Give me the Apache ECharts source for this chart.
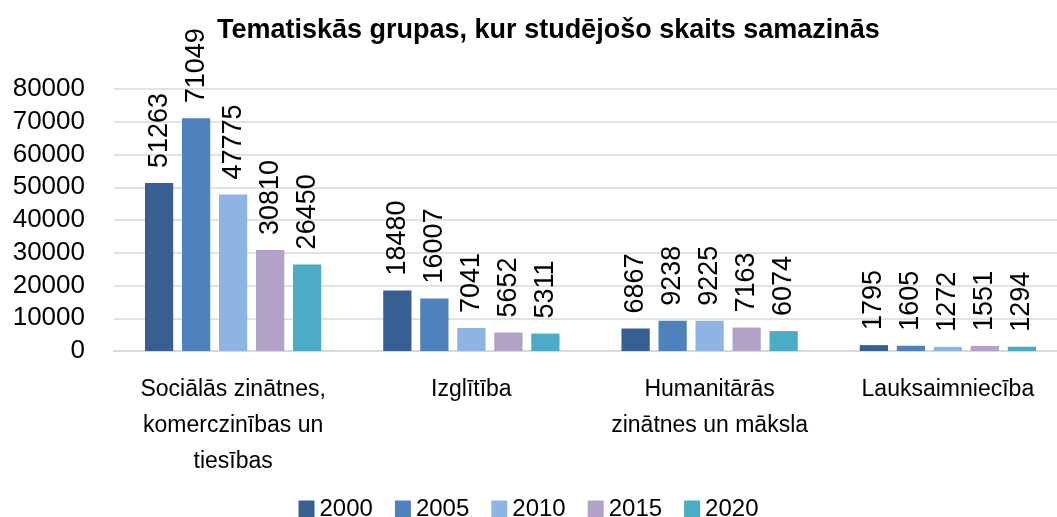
<!DOCTYPE html>
<html>
<head>
<meta charset="utf-8">
<script src="https://cdn.jsdelivr.net/npm/echarts@6/dist/echarts.min.js"></script>
<style>
  html, body { margin: 0; padding: 0; background: #ffffff; }
  #chart { width: 1057px; height: 517px; }
</style>
</head>
<body>
<div id="chart"></div>
<script>
// Thematic groups where the number of students is decreasing
const titleText = 'Tematiskās grupas, kur studējošo skaits samazinās';
const categories = [
  'Sociālās zinātnes,\nkomerczinības un\ntiesības',
  'Izglītība',
  'Humanitārās\nzinātnes un māksla',
  'Lauksaimniecība'
];
const years = ['2000', '2005', '2010', '2015', '2020'];
const values2000 = [51263, 18480, 6867, 1795];
const values2005 = [71049, 16007, 9238, 1605];
const values2010 = [47775, 7041, 9225, 1272];
const values2015 = [30810, 5652, 7163, 1551];
const values2020 = [26450, 5311, 6074, 1294];
const seriesValues = [values2000, values2005, values2010, values2015, values2020];
const colors = ['#375F92', '#4F81BD', '#8EB4E3', '#B3A2C7', '#4BACC6'];

const fontFamily = '"Liberation Sans", Arial, sans-serif';
const chart = echarts.init(document.getElementById('chart'));

chart.setOption({
  animation: false,
  backgroundColor: '#ffffff',
  color: colors,
  textStyle: { fontFamily: fontFamily, color: '#000000' },
  title: {
    text: titleText,
    left: 212,
    top: 12,
    textStyle: { fontFamily: fontFamily, fontSize: 27, fontWeight: 'bold', color: '#000000' }
  },
  legend: {
    top: 492,
    left: 'center',
    itemWidth: 16,
    itemHeight: 17,
    itemGap: 22,
    icon: 'rect',
    textStyle: { fontFamily: fontFamily, fontSize: 24, color: '#000000' },
    data: years
  },
  grid: {
    left: 114,
    top: 89,
    width: 953,
    height: 262,
    containLabel: false,
    outerBoundsMode: 'none'
  },
  xAxis: {
    type: 'category',
    data: categories,
    axisLine: { show: true, lineStyle: { color: '#D9D9D9', width: 2 } },
    axisTick: { show: false },
    axisLabel: {
      fontFamily: fontFamily,
      fontSize: 23,
      color: '#000000',
      lineHeight: 36,
      margin: 21,
      interval: 0
    }
  },
  yAxis: {
    type: 'value',
    min: 0,
    max: 80000,
    interval: 10000,
    axisLine: { show: false },
    axisTick: { show: false },
    splitLine: { show: true, lineStyle: { color: '#D9D9D9', width: 1.5 } },
    axisLabel: {
      fontFamily: fontFamily,
      fontSize: 26,
      color: '#000000',
      margin: 29,
      formatter: function (v) { return String(v); }
    }
  },
  series: years.map(function (year, i) {
    return {
      name: year,
      type: 'bar',
      data: seriesValues[i],
      barGap: '31%',
      barCategoryGap: '26%',
      itemStyle: { color: colors[i] },
      label: {
        show: true,
        position: 'top',
        rotate: 90,
        align: 'left',
        verticalAlign: 'middle',
        distance: 15,
        fontFamily: fontFamily,
        fontSize: 27,
        color: '#000000'
      }
    };
  })
});
</script>
</body>
</html>
